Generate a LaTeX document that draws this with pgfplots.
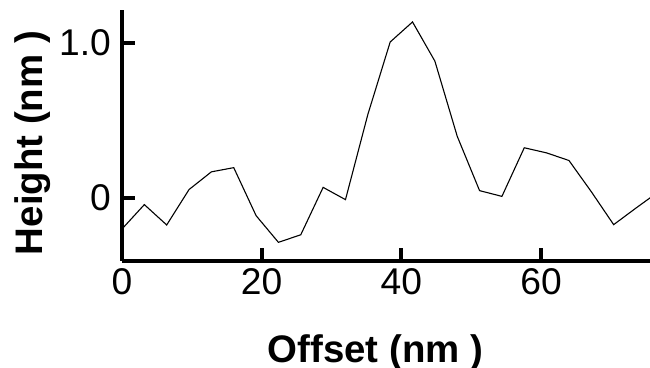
\documentclass[border=0pt]{standalone}
\usepackage{fontspec}
\setmainfont{Liberation Sans}
\usepackage{pgfplots}
\pgfplotsset{compat=1.18}
\begin{document}
\begin{tikzpicture}
\useasboundingbox (-61pt,-53.5pt) rectangle (264pt,130.5pt);
\begin{axis}[
  scale only axis,
  width=264pt, height=125.5pt,
  xmin=0, xmax=75.6, ymin=-0.406, ymax=1.21,
  axis x line=bottom, axis y line=left,
  axis line style={-, line width=2pt},
  tick style={line width=2pt, black},
  tick align=inside,
  major tick length=6.5pt,
  xtick={0,20,40,60}, ytick={0,1},
  yticklabels={0,1.0},
  /pgf/number format/assume math mode=true,
  ticklabel style={font=\fontsize{18.6}{20}\selectfont},
  yticklabel style={xshift=-2pt},
  xticklabel style={yshift=0pt},
  xlabel={Offset (nm )}, ylabel={Height (nm )},
  label style={font=\fontsize{19.2}{21}\selectfont\bfseries},
  xlabel style={at={(axis description cs:0.48,-0.363)}, anchor=center},
  ylabel style={at={(axis description cs:-0.17,0.47)}, anchor=center, rotate=0},
  clip=true,
]
\addplot[black, line width=0.55pt] coordinates {
(0,-0.20) (3.2,-0.043) (6.4,-0.174) (9.6,0.054) (12.8,0.168) (16,0.195)
(19.2,-0.114) (22.4,-0.286) (25.6,-0.237) (28.8,0.068) (32,-0.011)
(35.2,0.537) (38.4,1.004) (41.6,1.133) (44.8,0.881) (48,0.397)
(51.2,0.047) (54.4,0.010) (57.6,0.323) (60.8,0.290) (64,0.241)
(67.2,0.040) (70.4,-0.172) (73.6,-0.065) (76.8,0.039)
};
\end{axis}
\end{tikzpicture}
\end{document}
